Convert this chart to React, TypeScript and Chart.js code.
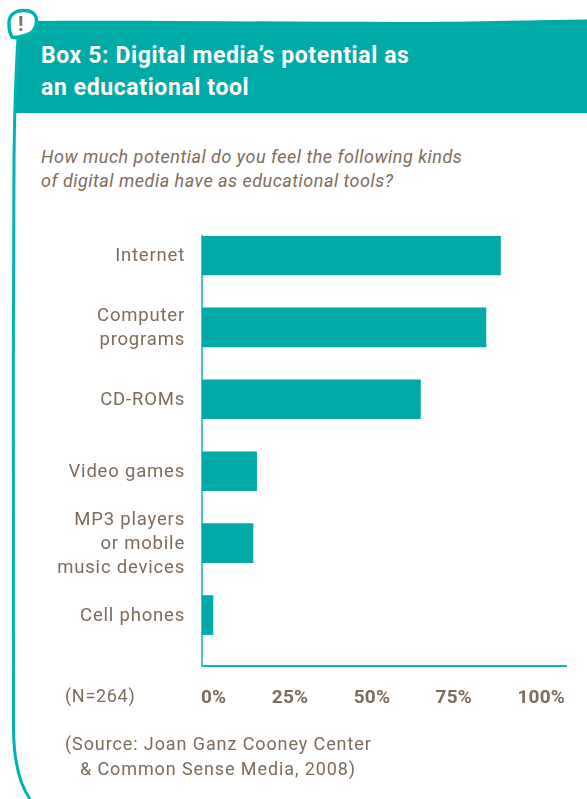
import { useEffect, useRef } from "react";
import { Chart, registerables, type Plugin } from "chart.js";

Chart.register(...registerables);

const TEAL = "#00aaa6";
const FRAME = "#00b3ae";
const AXIS_LEFT = "#4cc3bf";
const AXIS_BOTTOM = "#10b6b1";
const BROWN = "#7e6c5b";
const FONT = "Roboto";

const categories: (string | string[])[] = [
  "Internet",
  ["Computer", "programs"],
  "CD-ROMs",
  "Video games",
  ["MP3 players", "or mobile", "music devices"],
  "Cell phones",
];
const shares = [82, 78, 60, 15, 14, 3];
const axisTicks = [0, 25, 50, 75, 100];

const titleLines = ["Box 5: Digital media’s potential as", "an educational tool"];
const questionLines = [
  "How much potential do you feel the following kinds",
  "of digital media have as educational tools?",
];
const sampleNote = "(N=264)";
const sourceLines = ["(Source: Joan Ganz Cooney Center", "& Common Sense Media, 2008)"];

// Canvas text has no CSS inheritance, so tracking is applied on the context.
const tracking: Plugin<"bar"> = {
  id: "tracking",
  beforeDraw(chart) {
    (chart.ctx as any).letterSpacing = "0.8px";
  },
};

// Percent labels run edge to edge under the axis with equal gaps between them.
const spreadAxisLabels: Plugin<"bar"> = {
  id: "spreadAxisLabels",
  afterDraw(chart) {
    const { ctx } = chart;
    const scale = chart.scales.x;
    const labels = axisTicks.map((t) => `${t}%`);
    ctx.save();
    (ctx as any).letterSpacing = "0.2px";
    ctx.font = `700 19px ${FONT}`;
    ctx.fillStyle = BROWN;
    ctx.textAlign = "left";
    ctx.textBaseline = "middle";
    const widths = labels.map((l) => ctx.measureText(l).width);
    const used = widths.reduce((a, b) => a + b, 0);
    const gap = (scale.right - scale.left - used) / (labels.length - 1);
    let x = scale.left - 1;
    labels.forEach((l, i) => {
      ctx.fillText(l, x, scale.bottom + 32);
      x += widths[i] + gap;
    });
    ctx.restore();
  },
};

function Text({ x, y, children, style }: { x: number; y: number; children: string; style?: React.CSSProperties }) {
  return (
    <div
      style={{
        position: "absolute",
        left: x,
        top: y - 16,
        height: 32,
        lineHeight: "32px",
        whiteSpace: "nowrap",
        fontFamily: FONT,
        color: BROWN,
        ...style,
      }}
    >
      {children}
    </div>
  );
}

export default function App() {
  const ref = useRef<HTMLCanvasElement>(null);

  useEffect(() => {
    document.body.style.margin = "0";
    const chart = new Chart(ref.current!, {
      type: "bar",
      data: {
        datasets: [
          {
            data: shares.map((v, i) => ({ x: v, y: i })) as any,
            backgroundColor: TEAL,
            barThickness: 39,
            borderWidth: 0,
          },
        ],
      },
      options: {
        indexAxis: "y",
        responsive: false,
        animation: false,
        layout: { padding: { top: 236, right: 21, bottom: 133, left: 0 } },
        plugins: { legend: { display: false }, tooltip: { enabled: false } },
        scales: {
          x: {
            type: "linear",
            min: 0,
            max: 100,
            grid: { display: false, drawTicks: false },
            border: { display: true, color: AXIS_BOTTOM, width: 2 },
            ticks: { display: false },
            afterBuildTicks: (s) => {
              s.ticks = axisTicks.map((value) => ({ value }));
            },
            afterFit: (s) => {
              s.height = 0;
            },
          },
          y: {
            type: "linear",
            reverse: true,
            offset: false,
            min: -0.27,
            max: 5.708,
            grid: { display: false, drawTicks: false, offset: false },
            border: { display: true, color: AXIS_LEFT, width: 2 },
            afterBuildTicks: (s) => {
              s.ticks = categories.map((_, value) => ({ value }));
            },
            afterFit: (s) => {
              s.width = 202;
            },
            ticks: {
              autoSkip: false,
              padding: 17,
              labelOffset: 1,
              color: BROWN,
              font: { family: FONT, size: 18.5, lineHeight: 24 / 18.5 },
              callback: (v) => categories[Number(v)],
            },
          },
        },
      },
      plugins: [tracking, spreadAxisLabels],
    });
    return () => chart.destroy();
  }, []);

  return (
    <div style={{ position: "absolute", left: 0, top: 0, width: 587, height: 799, overflow: "hidden", background: "#fff" }}>
      <svg width={587} height={799} style={{ position: "absolute", left: 0, top: 0 }}>
        <path d="M19 38 L30 21 C150 20 280 22 400 22 C470 22 530 20 587 19.5 L587 113 L15 113 Z" fill={TEAL} />
        <path
          d="M18 38 C16 70 14.5 110 14 160 C13 350 13 600 13.5 730 C14 765 20 785 30 799"
          fill="none"
          stroke={FRAME}
          strokeWidth={3}
        />
        <path
          d="M23 10.5 C32 10 37 14.5 36.5 22 C36 30 31 34 25 35.5 C20 37 15 38.5 12 37 C10 34 9 29 9 23 C9 15 15 10.8 23 10.5 Z"
          fill="#fff"
          stroke={FRAME}
          strokeWidth={3.5}
        />
      </svg>
      <Text x={18} y={24} style={{ fontWeight: 700, fontSize: 20 }}>!</Text>
      {titleLines.map((t, i) => (
        <Text key={t} x={41} y={56 + i * 32} style={{ color: "#fff", fontWeight: 700, fontSize: 23, letterSpacing: 0.6 }}>
          {t}
        </Text>
      ))}
      {questionLines.map((t, i) => (
        <Text key={t} x={41} y={157 + i * 24} style={{ fontStyle: "italic", fontSize: 18, letterSpacing: 0.5 }}>
          {t}
        </Text>
      ))}
      <canvas ref={ref} width={587} height={799} style={{ position: "absolute", left: 0, top: 0 }} />
      <Text x={65} y={696} style={{ fontSize: 18, letterSpacing: 0.7 }}>{sampleNote}</Text>
      {sourceLines.map((t, i) => (
        <Text key={t} x={i === 0 ? 65 : 80} y={744 + i * 25} style={{ fontSize: 18, letterSpacing: 0.9 }}>
          {t}
        </Text>
      ))}
    </div>
  );
}
